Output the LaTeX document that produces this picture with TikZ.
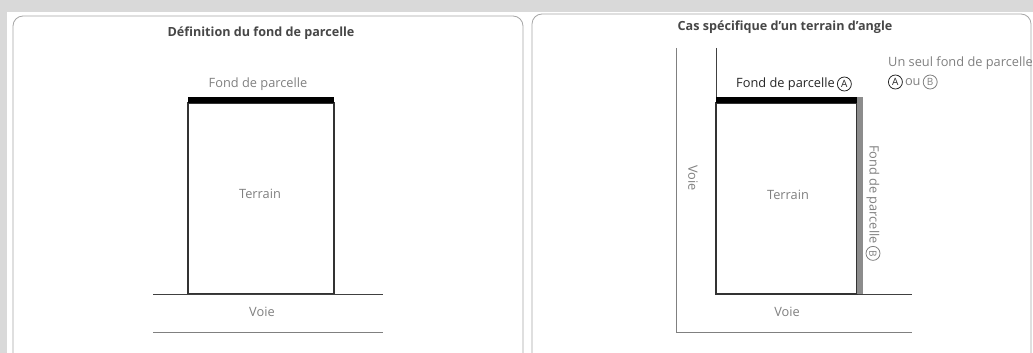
\documentclass[tikz,border=0pt]{standalone}
\usepackage{fontspec}
\setmainfont{Open Sans}
\begin{document}
\begin{tikzpicture}[x=1pt,y=-1pt,
  panel/.style={draw=black!35, line width=0.8pt, rounded corners=10pt, fill=white},
  titletext/.style={font=\fontsize{12.6}{15}\selectfont\bfseries, text=black!72, inner sep=0pt},
  lbl/.style={font=\fontsize{12.8}{15}\selectfont, text=black!50, inner sep=0pt},
  lbldark/.style={font=\fontsize{12.8}{15}\selectfont, text=black!85, inner sep=0pt},
  circ/.style={circle, draw=#1, text=#1, line width=0.8pt, inner sep=0.3pt, minimum size=14pt, font=\fontsize{10}{11}\selectfont},
  lot/.style={draw=black!80, line width=1.1pt},
  road/.style={draw=black!75, line width=1pt},
  roadlight/.style={draw=black!50, line width=1pt},
  fondA/.style={draw=black, line width=6pt},
  fondB/.style={draw=black!45, line width=6pt}]
\useasboundingbox (0,0) rectangle (1033,353);
\clip (0,0) rectangle (1033,353);
\fill[black!15] (0,0) rectangle (1033,353);
\fill[white] (7,12) rectangle (1033,353);
\draw[panel] (13,16) rectangle (523,368);
\draw[panel] (532,14) rectangle (1031,368);

% ---------- left panel ----------
\node[titletext] (t1) at (261,33) {Définition du fond de parcelle};
\coordinate (L1) at (188,103);
\coordinate (L2) at (334,294);
\draw[lot] (L1) rectangle (L2);
\coordinate (fa1) at (188,100);
\coordinate (fa2) at (334,100);
\draw[fondA] (fa1) -- (fa2);
\node[lbl] (fl) at (258,84) {Fond de parcelle};
\node[lbl] (terl) at (260,194) {Terrain};
\coordinate (r1a) at (153,294);
\coordinate (r1b) at (383,294);
\coordinate (r2a) at (153,332);
\coordinate (r2b) at (383,332);
\draw[road] (r1a) -- (r1b);
\draw[roadlight] (r2a) -- (r2b);
\node[lbl] (voiel) at (262,312) {Voie};

% ---------- right panel ----------
\node[titletext] (t2) at (785,27) {Cas spécifique d’un terrain d’angle};
\coordinate (ov1) at (676,48);
\coordinate (ov2) at (676,332);
\coordinate (ov3) at (912,332);
\draw[roadlight] (ov1) -- (ov2) -- (ov3);
\coordinate (iv1) at (716,48);
\coordinate (iv2) at (716,294);
\coordinate (iv3) at (912,294);
\draw[road] (iv1) -- (iv2) -- (iv3);
\coordinate (R1) at (716,103);
\coordinate (R2) at (857,294);
\draw[lot] (R1) rectangle (R2);
\coordinate (fb1) at (860,97);
\coordinate (fb2) at (860,294);
\draw[fondB] (fb1) -- (fb2);
\coordinate (fra1) at (716,100);
\coordinate (fra2) at (857,100);
\draw[fondA] (fra1) -- (fra2);
\node[lbldark, anchor=west] (fr) at (736,84) {Fond de parcelle};
\node[circ=black!85, anchor=west] (ca) at ([xshift=2pt]fr.east) {A};
\node[lbl] (terr) at (788,195) {Terrain};
\node[lbl, rotate=-90] (voiev) at (693,178) {Voie};
\node[lbl] (voieh) at (787,312) {Voie};
\node[lbl, rotate=-90, anchor=west] (frb) at (873,145) {Fond de parcelle};
\node[circ=black!50, rotate=-90, anchor=west] (cb) at ([yshift=-2pt]frb.east) {B};
\node[lbl, anchor=west] (un) at (888,63) {Un seul fond de parcelle};
\node[circ=black!85, anchor=west] (ca2) at (888,82) {A};
\node[lbl, anchor=west] (ou) at ([xshift=2pt]ca2.east) {ou};
\node[circ=black!50, anchor=west] (cb2) at ([xshift=2pt]ou.east) {B};
\end{tikzpicture}
\end{document}
